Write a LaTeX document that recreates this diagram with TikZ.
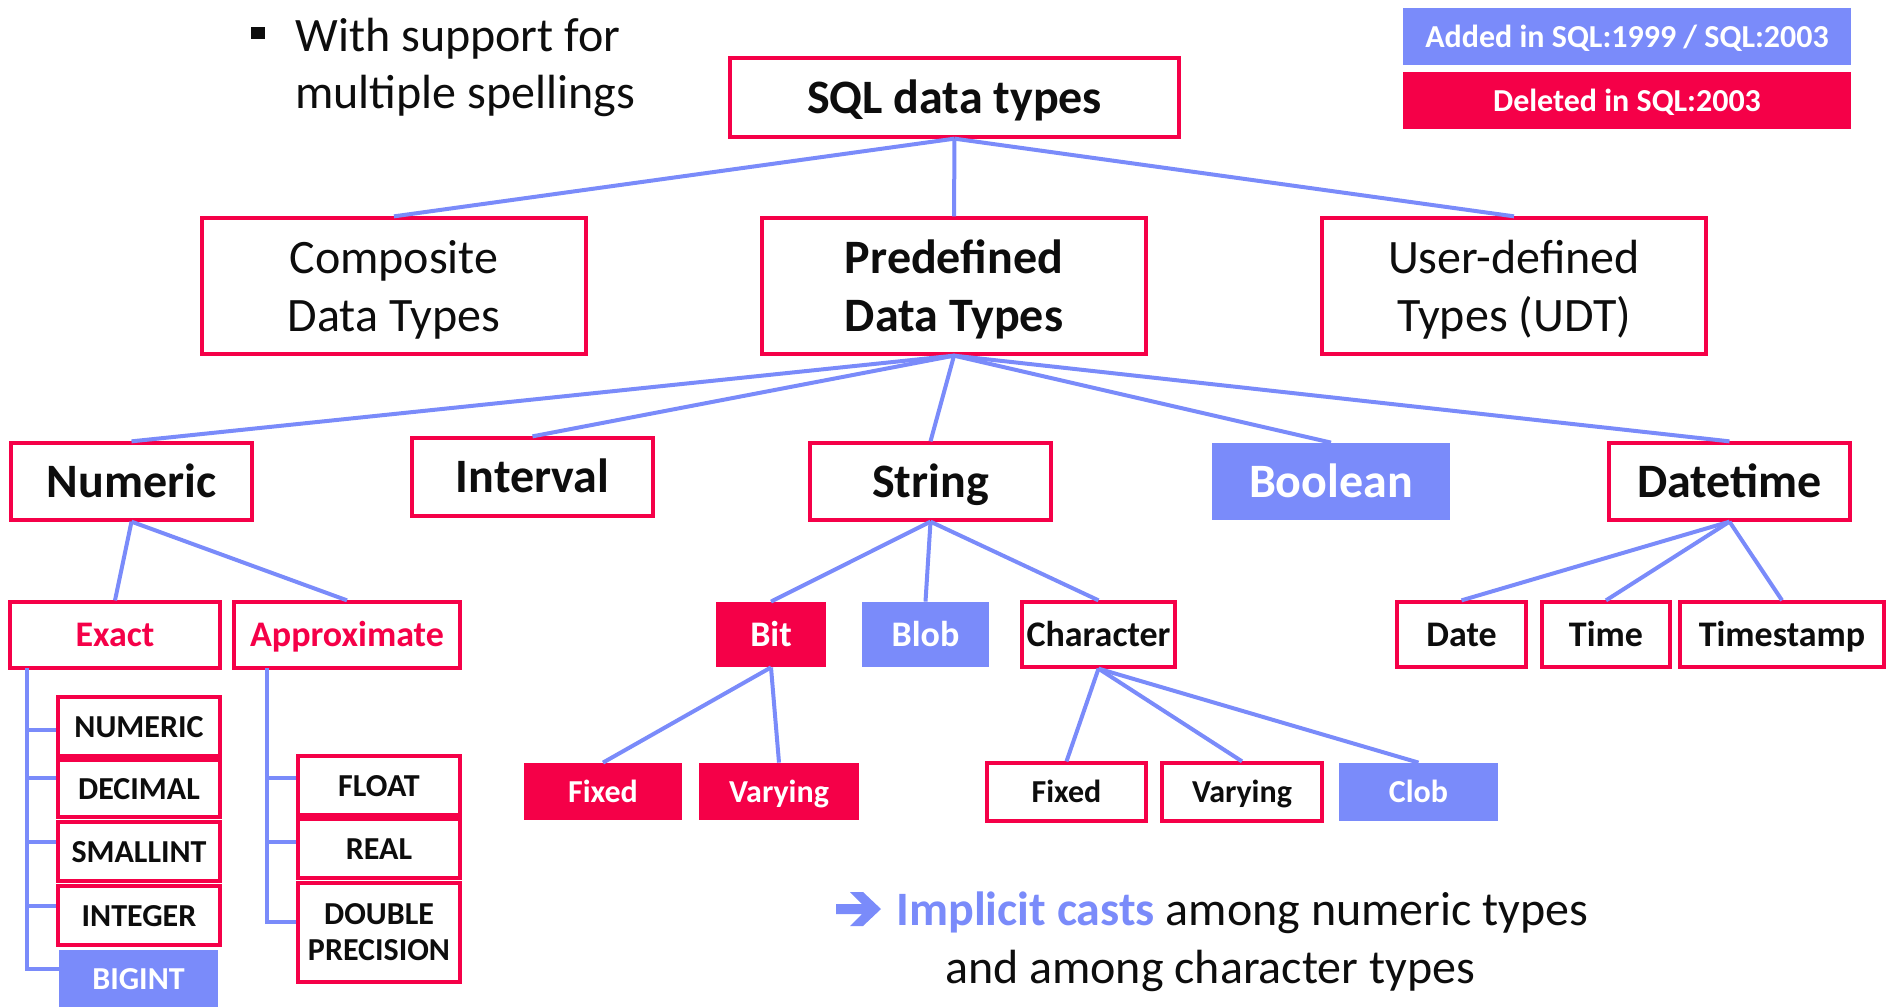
\documentclass[tikz,border=0pt]{standalone}
\usepackage{fontspec}
\setmainfont{Carlito}
\definecolor{rd}{RGB}{245,0,72}
\definecolor{bl}{RGB}{122,139,250}
\definecolor{tx}{RGB}{13,13,13}
\begin{document}
\begin{tikzpicture}[x=0.5pt,y=-0.5pt,
 box/.style={draw=rd, line width=1.65pt, fill=white, inner sep=0pt, text=tx, align=center},
 redfill/.style={fill=rd, inner sep=0pt, text=white, align=center},
 bluefill/.style={fill=bl, inner sep=0pt, text=white, align=center},
 conn/.style={draw=bl, line width=2pt},
 big/.style={font=\fontsize{24}{29}\selectfont},
 bigb/.style={font=\fontsize{24}{29}\selectfont\bfseries},
 mid/.style={font=\fontsize{18}{22}\selectfont\bfseries, text height=11.9pt, text depth=0pt},
 sml/.style={font=\fontsize{16}{18}\selectfont\bfseries},
 one/.style={text height=10.6pt, text depth=0pt},
 onebig/.style={text height=15.8pt, text depth=0pt},
 sz/.style 2 args={minimum width=#1pt, minimum height=#2pt},
]
\useasboundingbox (0,0) rectangle (1896,1007);
% legend
\node[bluefill, sml, one, sz={224}{28.5}] (added) at (1627,36.5) {Added in SQL:1999 / SQL:2003};
\node[redfill, sml, one, sz={224}{28.5}] (deleted) at (1627,100.5) {Deleted in SQL:2003};
% bullet text
\node[fill=tx, minimum width=7pt, minimum height=6pt, inner sep=0pt] (bul) at (257.5,33) {};
\node[anchor=base west, big, text=tx, inner sep=0pt] (b1) at (295,51) {With support for};
\node[anchor=base west, big, text=tx, inner sep=0pt] (b2) at (295,108) {multiple spellings};
% top levels
\node[box, bigb, onebig, sz={224.5}{39.5}] (sql) at (954.5,97.5) {SQL data types};
\node[box, big, text depth=0pt, sz={192}{68}] (comp) at (394,286) {Composite\\Data Types};
\node[box, bigb, text depth=0pt, sz={192}{68}] (pre) at (954,286) {Predefined\\Data Types};
\node[box, big, text depth=0pt, sz={192}{68}] (udt) at (1514,286) {User-defined\\Types (UDT)};
% predefined children
\node[box, bigb, onebig, sz={120.5}{38.5}] (num) at (131.5,481.5) {Numeric};
\node[box, bigb, onebig, sz={120.5}{39}] (intv) at (532.5,477) {Interval};
\node[box, bigb, onebig, sz={120.5}{38.5}] (str) at (930.5,481.5) {String};
\node[bluefill, bigb, onebig, sz={119}{38.5}] (bool) at (1331,481.5) {Boolean};
\node[box, bigb, onebig, sz={120.5}{38.5}] (dt) at (1729.5,481.5) {Datetime};
% numeric
\node[box, mid, text=rd, sz={105}{33}] (exact) at (115,635) {Exact};
\node[box, mid, text=rd, sz={113}{33}] (approx) at (347,635) {Approximate};
\node[box, sml, one, sz={81}{29.5}] (n1) at (139,726.5) {NUMERIC};
\node[box, sml, one, sz={81}{28.5}] (n2) at (139,788.5) {DECIMAL};
\node[box, sml, one, sz={81}{29.5}] (n3) at (139,851.5) {SMALLINT};
\node[box, sml, one, sz={81}{29.5}] (n4) at (139,915.5) {INTEGER};
\node[bluefill, sml, one, sz={79.5}{28.5}] (n5) at (138.5,978.5) {BIGINT};
\node[box, sml, one, sz={81}{29.5}] (a1) at (379,785.5) {FLOAT};
\node[box, sml, one, sz={81}{29.5}] (a2) at (379,848.5) {REAL};
\node[box, sml, sz={81}{49.5}] (a3) at (379,932.5) {DOUBLE\\PRECISION};
% string
\node[redfill, mid, sz={55}{32.5}] (bit) at (771,634.5) {Bit};
\node[bluefill, mid, sz={63.5}{32.5}] (blob) at (925.5,634.5) {Blob};
\node[box, mid, sz={76.5}{32.5}] (char) at (1098.5,634.5) {Character};
\node[redfill, sml, one, sz={79}{28.5}] (bfix) at (603,791.5) {Fixed};
\node[redfill, sml, one, sz={80}{28.5}] (bvar) at (779,791.5) {Varying};
\node[box, sml, one, sz={79.5}{29}] (cfix) at (1066.5,792) {Fixed};
\node[box, sml, one, sz={80}{29}] (cvar) at (1242,792) {Varying};
\node[bluefill, sml, one, sz={79.5}{29}] (clob) at (1418.5,792) {Clob};
% datetime
\node[box, mid, sz={64.5}{32.5}] (date) at (1461.5,634.5) {Date};
\node[box, mid, sz={64}{32.5}] (time) at (1606,634.5) {Time};
\node[box, mid, sz={102}{32.5}] (tstamp) at (1782,634.5) {Timestamp};
% connectors
\draw[conn] (sql.south) -- (comp.north);
\draw[conn] (sql.south) -- (pre.north);
\draw[conn] (sql.south) -- (udt.north);
\foreach \c in {num,intv,str,bool,dt} \draw[conn] (pre.south) -- (\c.north);
\draw[conn] (num.south) -- (exact.north);
\draw[conn] (num.south) -- (approx.north);
\foreach \c in {bit,blob,char} \draw[conn] (str.south) -- (\c.north);
\foreach \c in {date,time,tstamp} \draw[conn] (dt.south) -- (\c.north);
\draw[conn] (bit.south) -- (bfix.north);
\draw[conn] (bit.south) -- (bvar.north);
\foreach \c in {cfix,cvar,clob} \draw[conn] (char.south) -- (\c.north);
\coordinate (ev) at (27,668);
\draw[conn] (ev) |- ([yshift=-1.75pt]n1.west);
\draw[conn] (ev) |- ([yshift=5.25pt]n2.west);
\draw[conn] (ev) |- ([yshift=4.75pt]n3.west);
\draw[conn] (ev) |- ([yshift=4.75pt]n4.west);
\draw[conn] (ev) |- ([yshift=4.75pt]n5.west);
\coordinate (av) at (267,668);
\draw[conn] (av) |- ([yshift=3.75pt]a1.west);
\draw[conn] (av) |- ([yshift=3.25pt]a2.west);
\draw[conn] (av) |- ([yshift=5.25pt]a3.west);
% note
\fill[bl] (836,904) -- (862,904) -- (850,892) -- (863,892) -- (881,909) -- (863,926) -- (850,926) -- (862,914) -- (836,914) -- cycle;
\node[anchor=base west, big, text=tx, inner sep=0pt] (ic1) at (896,925) {\textcolor{bl}{\bfseries Implicit casts} among numeric types};
\node[anchor=base, big, text=tx, inner sep=0pt] (ic2) at (1210,983) {and among character types};
\end{tikzpicture}
\end{document}
